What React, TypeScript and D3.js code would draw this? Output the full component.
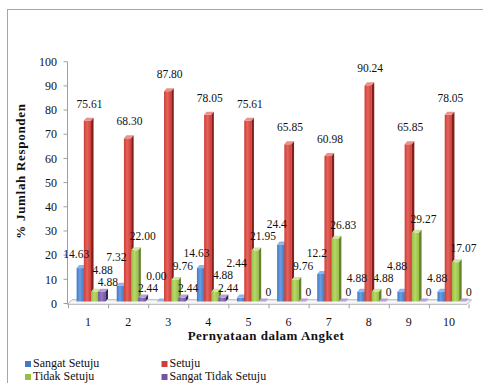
import React from "react";
import * as d3 from "d3";

const WIDTH = 483;
const HEIGHT = 383;
const FONT = "Liberation Serif, Tinos, Times New Roman, Times, serif";

// data
const categories = ["1", "2", "3", "4", "5", "6", "7", "8", "9", "10"];
const seriesNames = ["Sangat Setuju", "Setuju", "Tidak Setuju", "Sangat Tidak Setuju"];

const sangatSetuju = [14.63, 7.32, 0.0, 14.63, 2.44, 24.4, 12.2, 4.88, 4.88, 4.88];
const setuju = [75.61, 68.3, 87.8, 78.05, 75.61, 65.85, 60.98, 90.24, 65.85, 78.05];
const tidakSetuju = [4.88, 22.0, 9.76, 4.88, 21.95, 9.76, 26.83, 4.88, 29.27, 17.07];
const sangatTidakSetuju = [4.88, 2.44, 2.44, 2.44, 0, 0, 0, 0, 0, 0];

const sangatSetujuLabels = ["14.63", "7.32", "0.00", "14.63", "2.44", "24.4", "12.2", "4.88", "4.88", "4.88"];
const setujuLabels = ["75.61", "68.30", "87.80", "78.05", "75.61", "65.85", "60.98", "90.24", "65.85", "78.05"];
const tidakSetujuLabels = ["4.88", "22.00", "9.76", "4.88", "21.95", "9.76", "26.83", "4.88", "29.27", "17.07"];
const sangatTidakSetujuLabels = ["4.88", "2.44", "2.44", "2.44", "0", "0", "0", "0", "0", "0"];

const yTicks = [0, 10, 20, 30, 40, 50, 60, 70, 80, 90, 100];

const seriesValues = [sangatSetuju, setuju, tidakSetuju, sangatTidakSetuju];
const seriesLabels = [sangatSetujuLabels, setujuLabels, tidakSetujuLabels, sangatTidakSetujuLabels];

// look
const COLORS = [
  { front: "#4279c6", light: "#6a9ee2", side: "#274c82", top: "#8fb5ea" },
  { front: "#d03c36", light: "#e2645d", side: "#84201c", top: "#ec908a" },
  { front: "#97c040", light: "#b6d86c", side: "#64832a", top: "#cfe5a0" },
  { front: "#7553a3", light: "#9479c2", side: "#35245a", top: "#b5a1d6" },
];
const LABEL_DX = [-4, 2, 8, 6];
const LABEL_LIFT = [14, 17, 14, 10];
const PLACE_ORDER = [3, 0, 2, 1];
const DEPTH_X = 2.5;
const DEPTH_Y = 3;

const PLOT = { left: 67.5, top: 61.7, bottom: 303.5, right: 469 };

function textWidth(s: string) {
  let w = 0;
  for (const c of s) w += c === "." ? 2.9 : 5.75;
  return w;
}

export default function App() {
  const yScale = d3.scaleLinear().domain([0, 100]).range([PLOT.bottom, PLOT.top]);
  const xAxis = d3.scaleBand().domain(categories).range([68, PLOT.right]);
  const xBar = d3
    .scaleBand()
    .domain(categories)
    .range([71, 472])
    .paddingInner(0.28)
    .paddingOuter(0.14);
  const xInner = d3
    .scaleBand()
    .domain(seriesNames)
    .range([0, xBar.bandwidth()]);

  const base = yScale(0) - 2;
  const floorFront = yScale(0) + 0.8;
  const floorBack = floorFront - 4.5;

  // bars
  const bars: any[] = [];
  categories.forEach((cat, ci) => {
    seriesNames.forEach((name, si) => {
      const v = seriesValues[si][ci];
      const x0 = (xBar(cat) as number) + (xInner(name) as number);
      const w = xInner.bandwidth();
      const yT = Math.min(yScale(v), base);
      const c = COLORS[si];
      bars.push(
        <g key={cat + "-" + si}>
          <rect x={x0} y={yT} width={w} height={base - yT} fill={`url(#grad${si})`} />
          <polygon
            points={[
              [x0, yT],
              [x0 + DEPTH_X, yT - DEPTH_Y],
              [x0 + w + DEPTH_X, yT - DEPTH_Y],
              [x0 + w, yT],
            ].join(" ")}
            fill={c.top}
          />
          <polygon
            points={[
              [x0 + w, yT],
              [x0 + w + DEPTH_X, yT - DEPTH_Y],
              [x0 + w + DEPTH_X, base - DEPTH_Y],
              [x0 + w, base],
            ].join(" ")}
            fill={c.side}
          />
        </g>
      );
    });
  });

  // data labels, nudged upward when they run into one another
  const placed: { x: number; y: number; w: number; text: string }[] = [];
  categories.forEach((cat, ci) => {
    PLACE_ORDER.forEach((si) => {
      const v = seriesValues[si][ci];
      const text = seriesLabels[si][ci];
      const x = (xBar(cat) as number) + (xInner(seriesNames[si]) as number) + xInner.bandwidth() / 2 + LABEL_DX[si];
      let y = Math.min(yScale(v), base) - LABEL_LIFT[si];
      const w = textWidth(text);
      const hits = (yy: number) =>
        placed.some(
          (p) => Math.abs(p.x - x) < (p.w + w) / 2 + 1 && Math.abs(p.y - yy) < 12
        );
      while (hits(y)) y -= 1;
      placed.push({ x, y, w, text });
    });
  });

  return (
    <svg
      width={WIDTH}
      height={HEIGHT}
      style={{ position: "absolute", left: 0, top: 0, background: "#fff", fontFamily: FONT }}
    >
      <defs>
        {COLORS.map((c, i) => (
          <linearGradient key={i} id={`grad${i}`} x1="0" x2="1" y1="0" y2="0">
            <stop offset="0%" stopColor={c.front} />
            <stop offset="45%" stopColor={c.light} />
            <stop offset="100%" stopColor={c.front} />
          </linearGradient>
        ))}
      </defs>

      <rect x={7.5} y={9.5} width={500} height={400} fill="#fff" stroke="#a6a6a6" strokeWidth={1} />

      {/* floor */}
      <polygon
        points={[
          [PLOT.left, floorFront],
          [PLOT.right - 2, floorFront],
          [PLOT.right + 2.5, floorBack],
          [PLOT.left + 4.5, floorBack],
        ].join(" ")}
        fill="#f7f7f7"
        stroke="#b3b3b3"
        strokeWidth={1}
      />

      {/* y axis */}
      <line x1={PLOT.left} x2={PLOT.left} y1={yScale(100)} y2={floorFront} stroke="#a0a0a0" />
      {yTicks.map((t) => (
        <g key={t}>
          <line x1={PLOT.left - 4} x2={PLOT.left} y1={yScale(t)} y2={yScale(t)} stroke="#a0a0a0" />
          <text x={57} y={yScale(t)} dy="0.35em" textAnchor="end" fontSize={12} fill="#111">
            {t}
          </text>
        </g>
      ))}

      {/* x axis ticks and labels */}
      {categories.map((cat) => (
        <line
          key={cat}
          x1={(xAxis(cat) as number) + 0.5}
          x2={(xAxis(cat) as number) + 0.5}
          y1={floorFront}
          y2={floorFront + 4}
          stroke="#a0a0a0"
        />
      ))}
      <line x1={PLOT.right} x2={PLOT.right} y1={floorFront} y2={floorFront + 4} stroke="#a0a0a0" />
      {categories.map((cat) => (
        <text
          key={cat}
          x={(xAxis(cat) as number) + xAxis.bandwidth() / 2}
          y={326}
          textAnchor="middle"
          fontSize={12}
          fill="#111"
        >
          {cat}
        </text>
      ))}

      {bars}

      {placed.map((p, i) => (
        <text key={i} x={p.x} y={p.y} dy="0.35em" textAnchor="middle" fontSize={11.5} fill="#111">
          {p.text}
        </text>
      ))}

      {/* axis titles */}
      <text
        transform={`translate(25,171) rotate(-90)`}
        textAnchor="middle"
        fontSize={13}
        fontWeight="bold"
        letterSpacing={0.7}
        fill="#111"
      >
        % Jumlah Responden
      </text>
      <text x={266} y={340} textAnchor="middle" fontSize={13} fontWeight="bold" letterSpacing={0.5} fill="#111">
        Pernyataan dalam Angket
      </text>

      {/* legend */}
      {seriesNames.map((name, i) => {
        const lx = i % 2 === 0 ? 25 : 161.5;
        const ly = i < 2 ? 361 : 374;
        return (
          <g key={name}>
            <rect x={lx} y={ly} width={6} height={6} fill={COLORS[i].front} />
            <text x={lx + 8} y={ly + 6} fontSize={12} fill="#111">
              {name}
            </text>
          </g>
        );
      })}
    </svg>
  );
}
